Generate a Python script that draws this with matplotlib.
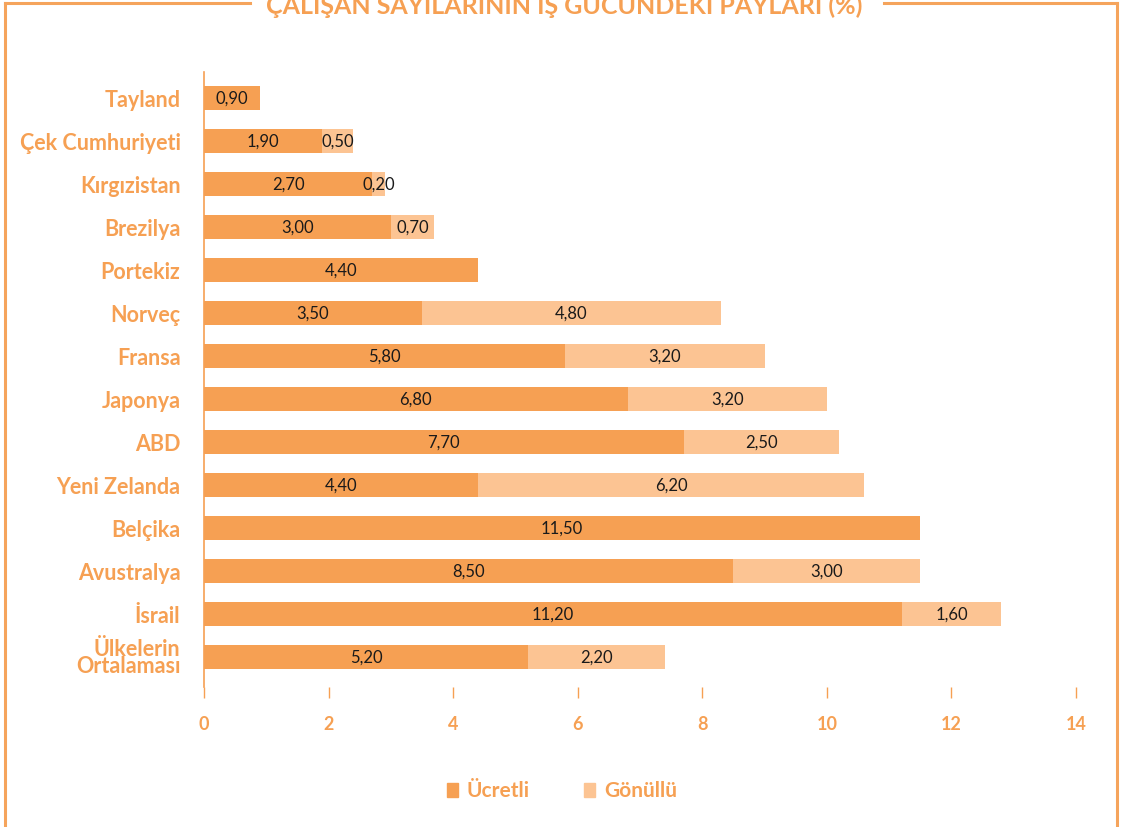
import matplotlib
matplotlib.use("Agg")
import matplotlib.pyplot as plt
from matplotlib.lines import Line2D
from matplotlib.patches import Rectangle
import numpy as np

ORANGE = "#F6A053"
LORANGE = "#FCC493"
FRAME = "#F5A45C"

countries = ["Tayland", "Çek Cumhuriyeti", "Kırgızistan", "Brezilya", "Portekiz",
             "Norveç", "Fransa", "Japonya", "ABD", "Yeni Zelanda", "Belçika",
             "Avustralya", "İsrail", "Ülkelerin\nOrtalaması"]
ucretli = [0.90, 1.90, 2.70, 3.00, 4.40, 3.50, 5.80, 6.80, 7.70, 4.40, 11.50, 8.50, 11.20, 5.20]
gonullu = [0.0, 0.50, 0.20, 0.70, 0.0, 4.80, 3.20, 3.20, 2.50, 6.20, 0.0, 3.00, 1.60, 2.20]
xticks = [0, 2, 4, 6, 8, 10, 12, 14]

plt.rcParams["font.family"] = ["Lato", "DejaVu Sans"]

W, H = 1121, 828
fig = plt.figure(figsize=(W / 100, H / 100), dpi=100)
ax = fig.add_axes([204 / W, 1 - 688 / H, (1076 - 204) / W, (688 - 73) / H])

y = np.arange(len(countries))
ax.barh(y, ucretli, height=0.56, color=ORANGE, label="Ücretli")
ax.barh(y, gonullu, left=ucretli, height=0.56, color=LORANGE, label="Gönüllü")

fmt = lambda v: f"{v:.2f}".replace(".", ",")
for i in range(len(countries)):
    ax.text(ucretli[i] / 2, i, fmt(ucretli[i]), ha="center", va="center",
            fontsize=12, color="#1a1a1a")
    if gonullu[i] > 0:
        ax.text(ucretli[i] + gonullu[i] / 2, i, fmt(gonullu[i]), ha="center",
                va="center", fontsize=12, color="#1a1a1a")

ax.set_xlim(0, 14)
ax.set_ylim(13.7, -0.6)
ax.set_yticks(y)
ax.set_yticklabels(countries, fontsize=15.5, fontweight="bold", color=ORANGE,
                   linespacing=0.8)
for lab in ax.get_yticklabels():
    lab.set_multialignment("right")
ax.tick_params(axis="y", length=0, pad=17)
ax.set_xticks(xticks)
ax.set_xticklabels([str(t) for t in xticks], fontsize=13, fontweight="bold",
                   color=ORANGE)
ax.tick_params(axis="x", length=8, width=1, color=ORANGE, pad=12, direction="out")
for s in ["top", "right", "bottom"]:
    ax.spines[s].set_visible(False)
ax.spines["left"].set_color(ORANGE)
ax.spines["left"].set_linewidth(1.2)

# frame around the chart, broken by the title
def fl(x1, y1, x2, y2):
    fig.add_artist(Line2D([x1 / W, x2 / W], [1 - y1 / H, 1 - y2 / H],
                          transform=fig.transFigure, color=FRAME, linewidth=2.2))

fl(5, 4, 250, 4)
fl(884, 4, 1117, 4)
fl(5, 4, 5, 828)
fl(1117, 4, 1117, 828)
fig.text(564 / W, 1 - 4 / H, "ÇALIŞAN SAYILARININ İŞ GÜCÜNDEKİ PAYLARI (%)",
         ha="center", va="center", fontsize=18, fontweight="bold", color=ORANGE)

# legend
fig.add_artist(Rectangle((447 / W, 1 - 798 / H), 11 / W, 14 / H, color=ORANGE,
                         transform=fig.transFigure))
fig.text(466 / W, 1 - 791 / H, "Ücretli", ha="left", va="center", fontsize=15,
         fontweight="bold", color=ORANGE)
fig.add_artist(Rectangle((584 / W, 1 - 798 / H), 11 / W, 14 / H, color=LORANGE,
                         transform=fig.transFigure))
fig.text(604 / W, 1 - 791 / H, "Gönüllü", ha="left", va="center", fontsize=15,
         fontweight="bold", color=ORANGE)

fig.savefig("out.png", dpi=100)
